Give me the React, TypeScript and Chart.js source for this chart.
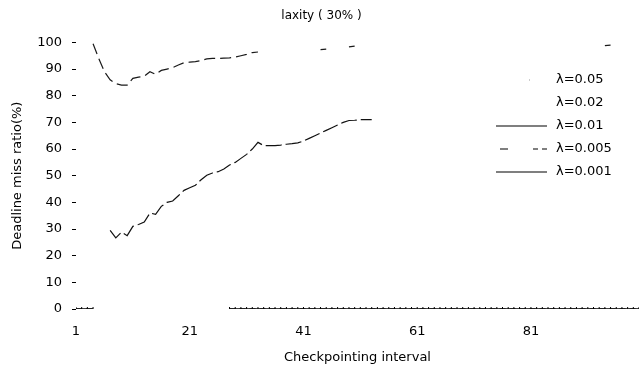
import React, { useEffect, useRef } from "react";
import { Chart, registerables } from "chart.js";

Chart.register(...registerables);

// ---- data ----
const seriesLabels = ["λ=0.05", "λ=0.02", "λ=0.01", "λ=0.005", "λ=0.001"];

const xTickValues = [1, 21, 41, 61, 81];
const yTickStep = 10;

// λ=0.05 (upper curve)
const upperX = [4, 5, 6, 7, 8, 9, 10, 11, 12, 13, 14, 15, 16, 17, 18, 19, 20, 21, 22, 23, 24, 25, 26, 27, 28, 29, 30, 31, 32, 33, 38, 44, 45, 47, 49, 50, 70, 94, 95];
const upperY = [99.5, 94, 89, 86, 84.5, 84, 84, 86.5, 87, 87.3, 89, 88, 89.5, 90, 90.5, 91.5, 92.4, 92.6, 92.8, 93.2, 93.8, 94, 94, 94.1, 94.2, 94.5, 95, 95.5, 96.2, 96.4, null, 97.3, 97.5, null, 98.3, 98.6, null, 98.8, 99];

// λ=0.02 (lower curve)
const lowerX = [7, 8, 9, 10, 11, 12, 13, 14, 15, 16, 17, 18, 19, 20, 21, 22, 23, 24, 25, 26, 27, 28, 29, 30, 31, 32, 33, 34, 35, 36, 37, 38, 39, 40, 41, 42, 43, 44, 45, 46, 47, 48, 49, 50, 51, 52, 53];
const lowerY = [29.5, 26.7, 28.8, 27.5, 31, 31.7, 32.6, 36, 35.5, 38.5, 40, 40.5, 42.5, 44.5, 45.5, 46.4, 48.5, 50.2, 51, 51.5, 52.5, 54, 55, 56.5, 58, 60, 62.5, 61.3, 61.3, 61.3, 61.5, 61.8, 62, 62.3, 63, 64, 65, 66, 67, 68, 69, 70, 70.7, 70.8, 71, 71, 71];

// λ=0.01 / 0.005 / 0.001 (zero line)
const zeroX = [1, 2, 3, 4, 16, 28, 29, 30, 31, 32, 33, 34, 35, 36, 37, 38, 39, 40, 41, 42, 43, 44, 45, 46, 47, 48, 49, 50, 51, 52, 53, 54, 55, 56, 57, 58, 59, 60, 61, 62, 63, 64, 65, 66, 67, 68, 69, 70, 71, 72, 73, 74, 75, 76, 77, 78, 79, 80, 81, 82, 83, 84, 85, 86, 87, 88, 89, 90, 91, 92, 93, 94, 95, 96, 97, 98, 99, 100];
const zeroY = [0, 0, 0, 0, null, 0, 0, 0, 0, 0, 0, 0, 0, 0, 0, 0, 0, 0, 0, 0, 0, 0, 0, 0, 0, 0, 0, 0, 0, 0, 0, 0, 0, 0, 0, 0, 0, 0, 0, 0, 0, 0, 0, 0, 0, 0, 0, 0, 0, 0, 0, 0, 0, 0, 0, 0, 0, 0, 0, 0, 0, 0, 0, 0, 0, 0, 0, 0, 0, 0, 0, 0, 0, 0, 0, 0, 0, 0];

const toPoints = (xs: number[], ys: (number | null)[]) => xs.map((x, i) => ({ x, y: ys[i] }));

const FONT = "DejaVu Sans";

const legendPlugin = {
  id: "insideLegend",
  afterDatasetsDraw(chart: any) {
    const ctx = chart.ctx;
    const rows = [80, 103, 126, 149, 172];
    const lineX0 = 496;
    const lineX1 = 547;
    const textX = 556;
    ctx.save();
    ctx.font = `13px "${FONT}"`;
    ctx.fillStyle = "#000";
    ctx.textBaseline = "middle";
    ctx.textAlign = "left";
    chart.data.datasets.forEach((ds: any, i: number) => {
      const y = rows[i];
      ctx.strokeStyle = "#000";
      ctx.lineWidth = 1.2;
      if (i === 0) {
        ctx.fillStyle = "#999";
        ctx.fillRect(529, y - 0.5, 1, 1);
        ctx.fillStyle = "#000";
      } else if (i === 2 || i === 4) {
        ctx.beginPath();
        ctx.setLineDash([]);
        ctx.moveTo(lineX0, y);
        ctx.lineTo(lineX1, y);
        ctx.stroke();
      } else if (i === 3) {
        ctx.beginPath();
        ctx.setLineDash([8, 25, 5, 4, 5, 100]);
        ctx.moveTo(500, y);
        ctx.lineTo(lineX1, y);
        ctx.stroke();
        ctx.setLineDash([]);
      }
      ctx.fillText(ds.label, textX, y);
    });
    ctx.restore();
  },
};

export default function App() {
  const ref = useRef<HTMLCanvasElement | null>(null);

  useEffect(() => {
    if (!ref.current) return;
    const chart = new Chart(ref.current, {
      type: "line",
      data: {
        datasets: [
          {
            label: seriesLabels[0],
            data: toPoints(upperX, upperY),
            borderColor: "#1a1a1a",
            borderWidth: 1.2,
            borderDash: [11, 5],
            pointRadius: 0,
            spanGaps: false,
            tension: 0,
          },
          {
            label: seriesLabels[1],
            data: toPoints(lowerX, lowerY),
            borderColor: "#111",
            borderWidth: 1.2,
            borderDash: [16, 4],
            pointRadius: 0,
            spanGaps: false,
            tension: 0,
          },
          {
            label: seriesLabels[2],
            data: toPoints(zeroX, zeroY),
            borderColor: "#000",
            borderWidth: 1,
            pointRadius: 0,
            spanGaps: false,
          },
          {
            label: seriesLabels[3],
            data: toPoints(zeroX, zeroY),
            borderColor: "#000",
            borderWidth: 1,
            borderDash: [6, 4],
            pointRadius: 0,
            spanGaps: false,
          },
          {
            label: seriesLabels[4],
            data: toPoints(zeroX, zeroY),
            borderColor: "#000",
            borderWidth: 1,
            pointStyle: "line",
            rotation: 90,
            pointRadius: 2,
            pointBorderColor: "#000",
            pointBorderWidth: 1,
            spanGaps: false,
          },
        ],
      },
      options: {
        responsive: false,
        animation: false,
        layout: { padding: { left: 0, right: 1, top: 0, bottom: 0 } },
        plugins: {
          legend: { display: false },
          tooltip: { enabled: false },
          title: {
            display: true,
            text: "laxity ( 30% )",
            color: "#000",
            font: { family: FONT, size: 12, weight: "normal" },
            padding: { top: 9, bottom: 19 },
          },
        },
        scales: {
          x: {
            type: "linear",
            min: 1,
            max: 100,
            afterBuildTicks: (s: any) => {
              s.ticks = xTickValues.map((v) => ({ value: v }));
            },
            afterFit: (s: any) => {
              s.height = 65;
            },
            grid: { display: false, drawTicks: false },
            border: { display: false },
            ticks: {
              autoSkip: false,
              maxRotation: 0,
              color: "#000",
              font: { family: FONT, size: 13 },
              padding: 15,
            },
            title: {
              display: true,
              text: "Checkpointing interval",
              color: "#000",
              font: { family: FONT, size: 13 },
              padding: { top: 0, bottom: 9 },
            },
          },
          y: {
            min: 0,
            max: 100,
            afterFit: (s: any) => {
              s.width = 76;
            },
            grid: {
              display: true,
              drawOnChartArea: false,
              drawTicks: true,
              tickLength: 4,
              color: "#000",
            },
            border: { display: false },
            ticks: {
              stepSize: yTickStep,
              color: "#000",
              font: { family: FONT, size: 13 },
              padding: 10,
            },
            title: {
              display: true,
              text: "Deadline miss ratio(%)",
              color: "#000",
              font: { family: FONT, size: 13 },
              padding: { top: 10, bottom: 0 },
            },
          },
        },
      },
      plugins: [legendPlugin],
    } as any);
    return () => chart.destroy();
  }, []);

  return (
    <div style={{ position: "fixed", left: 0, top: 0, width: 644, height: 374, background: "#fff" }}>
      <canvas ref={ref} width={644} height={374} style={{ display: "block" }} />
    </div>
  );
}
